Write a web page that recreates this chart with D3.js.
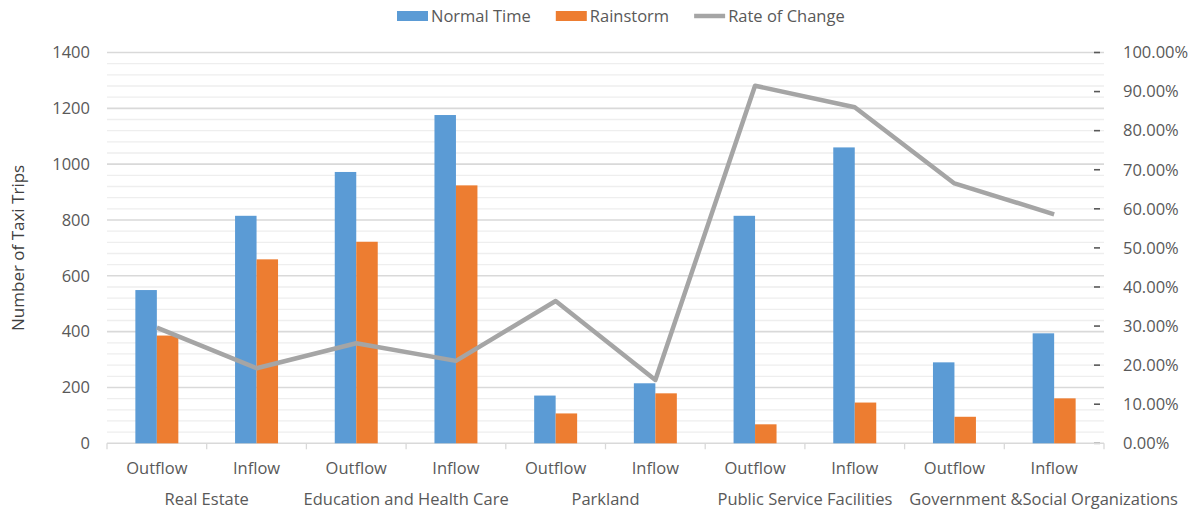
<!DOCTYPE html>
<html>
<head>
<meta charset="utf-8">
<script src="https://cdn.jsdelivr.net/npm/d3@7"></script>
<style>
  body { margin: 0; background: #fff; }
  text { font-family: "Open Sans", sans-serif; fill: #595959; }
</style>
</head>
<body>
<div class="chart"></div>
<script>
// data
const groups = ['Real Estate', 'Education and Health Care', 'Parkland', 'Public Service Facilities', 'Government &Social Organizations'];
const flows = ['Outflow', 'Inflow'];
const normalTime = [549, 815, 972, 1176, 171, 215, 815, 1060, 290, 394];
const rainstorm = [386, 659, 722, 924, 107, 179, 68, 146, 95, 161];
const rateOfChange = [0.296, 0.192, 0.256, 0.211, 0.364, 0.162, 0.915, 0.860, 0.665, 0.586];
const leftTicks = [0, 200, 400, 600, 800, 1000, 1200, 1400];
const rightTicks = [0, 0.1, 0.2, 0.3, 0.4, 0.5, 0.6, 0.7, 0.8, 0.9, 1.0];

const width = 1199, height = 513;
const margin = {top: 52.5, right: 95, bottom: 69.7, left: 107};
const colors = {normal: '#5B9BD5', rain: '#ED7D31', rate: '#A5A5A5'};

// one slot per group/flow pair
const slots = [];
groups.forEach(g => flows.forEach(f => slots.push({group: g, flow: f})));
slots.forEach((s, i) => {
    s.key = i;
    s.normal = normalTime[i];
    s.rain = rainstorm[i];
    s.rate = rateOfChange[i];
});

const svg = d3.select('.chart').append('svg')
    .attr('width', width)
    .attr('height', height);

const x = d3.scaleBand()
    .domain(slots.map(s => s.key))
    .range([margin.left, width - margin.right]);

const xInner = d3.scaleBand()
    .domain(['normal', 'rain'])
    .range([0, x.bandwidth()])
    .paddingInner(0)
    .paddingOuter(1.32);

const y = d3.scaleLinear()
    .domain([0, 1400])
    .range([height - margin.bottom, margin.top]);

const yRight = d3.scaleLinear()
    .domain([0, 1])
    .range([height - margin.bottom, margin.top]);

// minor then major gridlines
svg.append('g')
    .selectAll('line')
    .data(d3.range(0, 1401, 40).filter(v => v % 200 !== 0))
    .join('line')
    .attr('x1', margin.left)
    .attr('x2', width - margin.right)
    .attr('y1', d => y(d))
    .attr('y2', d => y(d))
    .style('stroke', '#EEEEEE')
    .style('stroke-width', 1.3);

svg.append('g')
    .selectAll('line')
    .data(leftTicks.slice(1))
    .join('line')
    .attr('x1', margin.left)
    .attr('x2', width - margin.right)
    .attr('y1', d => y(d))
    .attr('y2', d => y(d))
    .style('stroke', '#D9D9D9')
    .style('stroke-width', 1.6);

// left axis labels
let yAxis = d3.axisLeft(y).tickValues(leftTicks).tickFormat(d3.format('d')).tickSize(0).tickPadding(0);
let yAxisG = svg.append('g')
    .attr('transform', 'translate(' + (margin.left - 17) + ',0)')
    .call(yAxis);
yAxisG.select('.domain').remove();
yAxisG.selectAll('text')
    .style('font-size', '16.5px')
    .style('fill', '#595959')
    .style('font-family', '"Open Sans", sans-serif');

// right axis: dash marks and percent labels
let rightG = svg.append('g');
rightG.selectAll('line')
    .data(rightTicks)
    .join('line')
    .attr('x1', width - margin.right - 10)
    .attr('x2', width - margin.right - 4)
    .attr('y1', d => yRight(d))
    .attr('y2', d => yRight(d))
    .style('stroke', '#595959')
    .style('stroke-width', 1.6);
rightG.selectAll('text')
    .data(rightTicks)
    .join('text')
    .attr('x', width - margin.right + 19)
    .attr('y', d => yRight(d))
    .attr('dy', '0.35em')
    .style('font-size', '16.5px')
    .text(d => d3.format('.2%')(d));

// x axis line + category boundary ticks
let base = y(0);
svg.append('line')
    .attr('x1', margin.left)
    .attr('x2', width - margin.right)
    .attr('y1', base)
    .attr('y2', base)
    .style('stroke', '#D9D9D9')
    .style('stroke-width', 1.6);
svg.append('g')
    .selectAll('line')
    .data(d3.range(slots.length + 1))
    .join('line')
    .attr('x1', i => margin.left + i * x.step())
    .attr('x2', i => margin.left + i * x.step())
    .attr('y1', base)
    .attr('y2', base + 6)
    .style('stroke', '#D9D9D9')
    .style('stroke-width', 1.3);

// bars
let barG = svg.append('g');
barG.selectAll('rect.normal')
    .data(slots)
    .join('rect')
    .attr('class', 'normal')
    .attr('x', d => x(d.key) + xInner('normal'))
    .attr('width', xInner.bandwidth())
    .attr('y', d => y(d.normal))
    .attr('height', d => y(0) - y(d.normal))
    .style('fill', colors.normal);
barG.selectAll('rect.rain')
    .data(slots)
    .join('rect')
    .attr('class', 'rain')
    .attr('x', d => x(d.key) + xInner('rain'))
    .attr('width', xInner.bandwidth())
    .attr('y', d => y(d.rain))
    .attr('height', d => y(0) - y(d.rain))
    .style('fill', colors.rain);

// rate of change line
let line = d3.line()
    .x(d => x(d.key) + x.bandwidth() / 2)
    .y(d => yRight(d.rate));
svg.append('path')
    .datum(slots)
    .attr('d', line)
    .style('fill', 'none')
    .style('stroke', colors.rate)
    .style('stroke-width', 4.5)
    .style('stroke-linejoin', 'round');

// flow labels
svg.append('g')
    .selectAll('text')
    .data(slots)
    .join('text')
    .attr('x', d => x(d.key) + x.bandwidth() / 2)
    .attr('y', base + 25)
    .attr('dy', '0.35em')
    .attr('text-anchor', 'middle')
    .style('font-size', '16.5px')
    .text(d => d.flow);

// group labels, pushed right when they would collide (like Excel does)
let groupLabels = svg.append('g')
    .selectAll('text')
    .data(groups)
    .join('text')
    .attr('y', base + 56)
    .attr('dy', '0.35em')
    .style('font-size', '16.5px')
    .text(d => d);
let prevRight = -Infinity;
groupLabels.each(function(d, i) {
    let w = this.getComputedTextLength();
    let center = margin.left + (i * 2 + 1) * x.step();
    let left = Math.max(center - w / 2, prevRight + 17);
    d3.select(this).attr('x', left);
    prevRight = left + w;
});

// y axis title
svg.append('text')
    .attr('transform', 'translate(18,' + ((margin.top + base) / 2) + ') rotate(-90)')
    .attr('text-anchor', 'middle')
    .attr('dy', '0.35em')
    .style('font-size', '17px')
    .style('fill', '#404040')
    .text('Number of Taxi Trips');

// legend
let legendItems = [
    {label: 'Normal Time', color: colors.normal, type: 'rect'},
    {label: 'Rainstorm', color: colors.rain, type: 'rect'},
    {label: 'Rate of Change', color: colors.rate, type: 'line'}
];
let legend = svg.append('g').attr('transform', 'translate(0,16)');
let lx = 397;
legendItems.forEach(item => {
    if (item.type === 'rect') {
        legend.append('rect')
            .attr('x', lx).attr('y', -5)
            .attr('width', 31).attr('height', 10)
            .style('fill', item.color);
    } else {
        legend.append('line')
            .attr('x1', lx).attr('x2', lx + 31)
            .attr('y1', 0).attr('y2', 0)
            .style('stroke', item.color)
            .style('stroke-width', 4.5);
    }
    let t = legend.append('text')
        .attr('x', lx + 34)
        .attr('dy', '0.35em')
        .style('font-size', '16.5px')
        .text(item.label);
    lx += 34 + t.node().getComputedTextLength() + 25;
});
</script>
</body>
</html>
